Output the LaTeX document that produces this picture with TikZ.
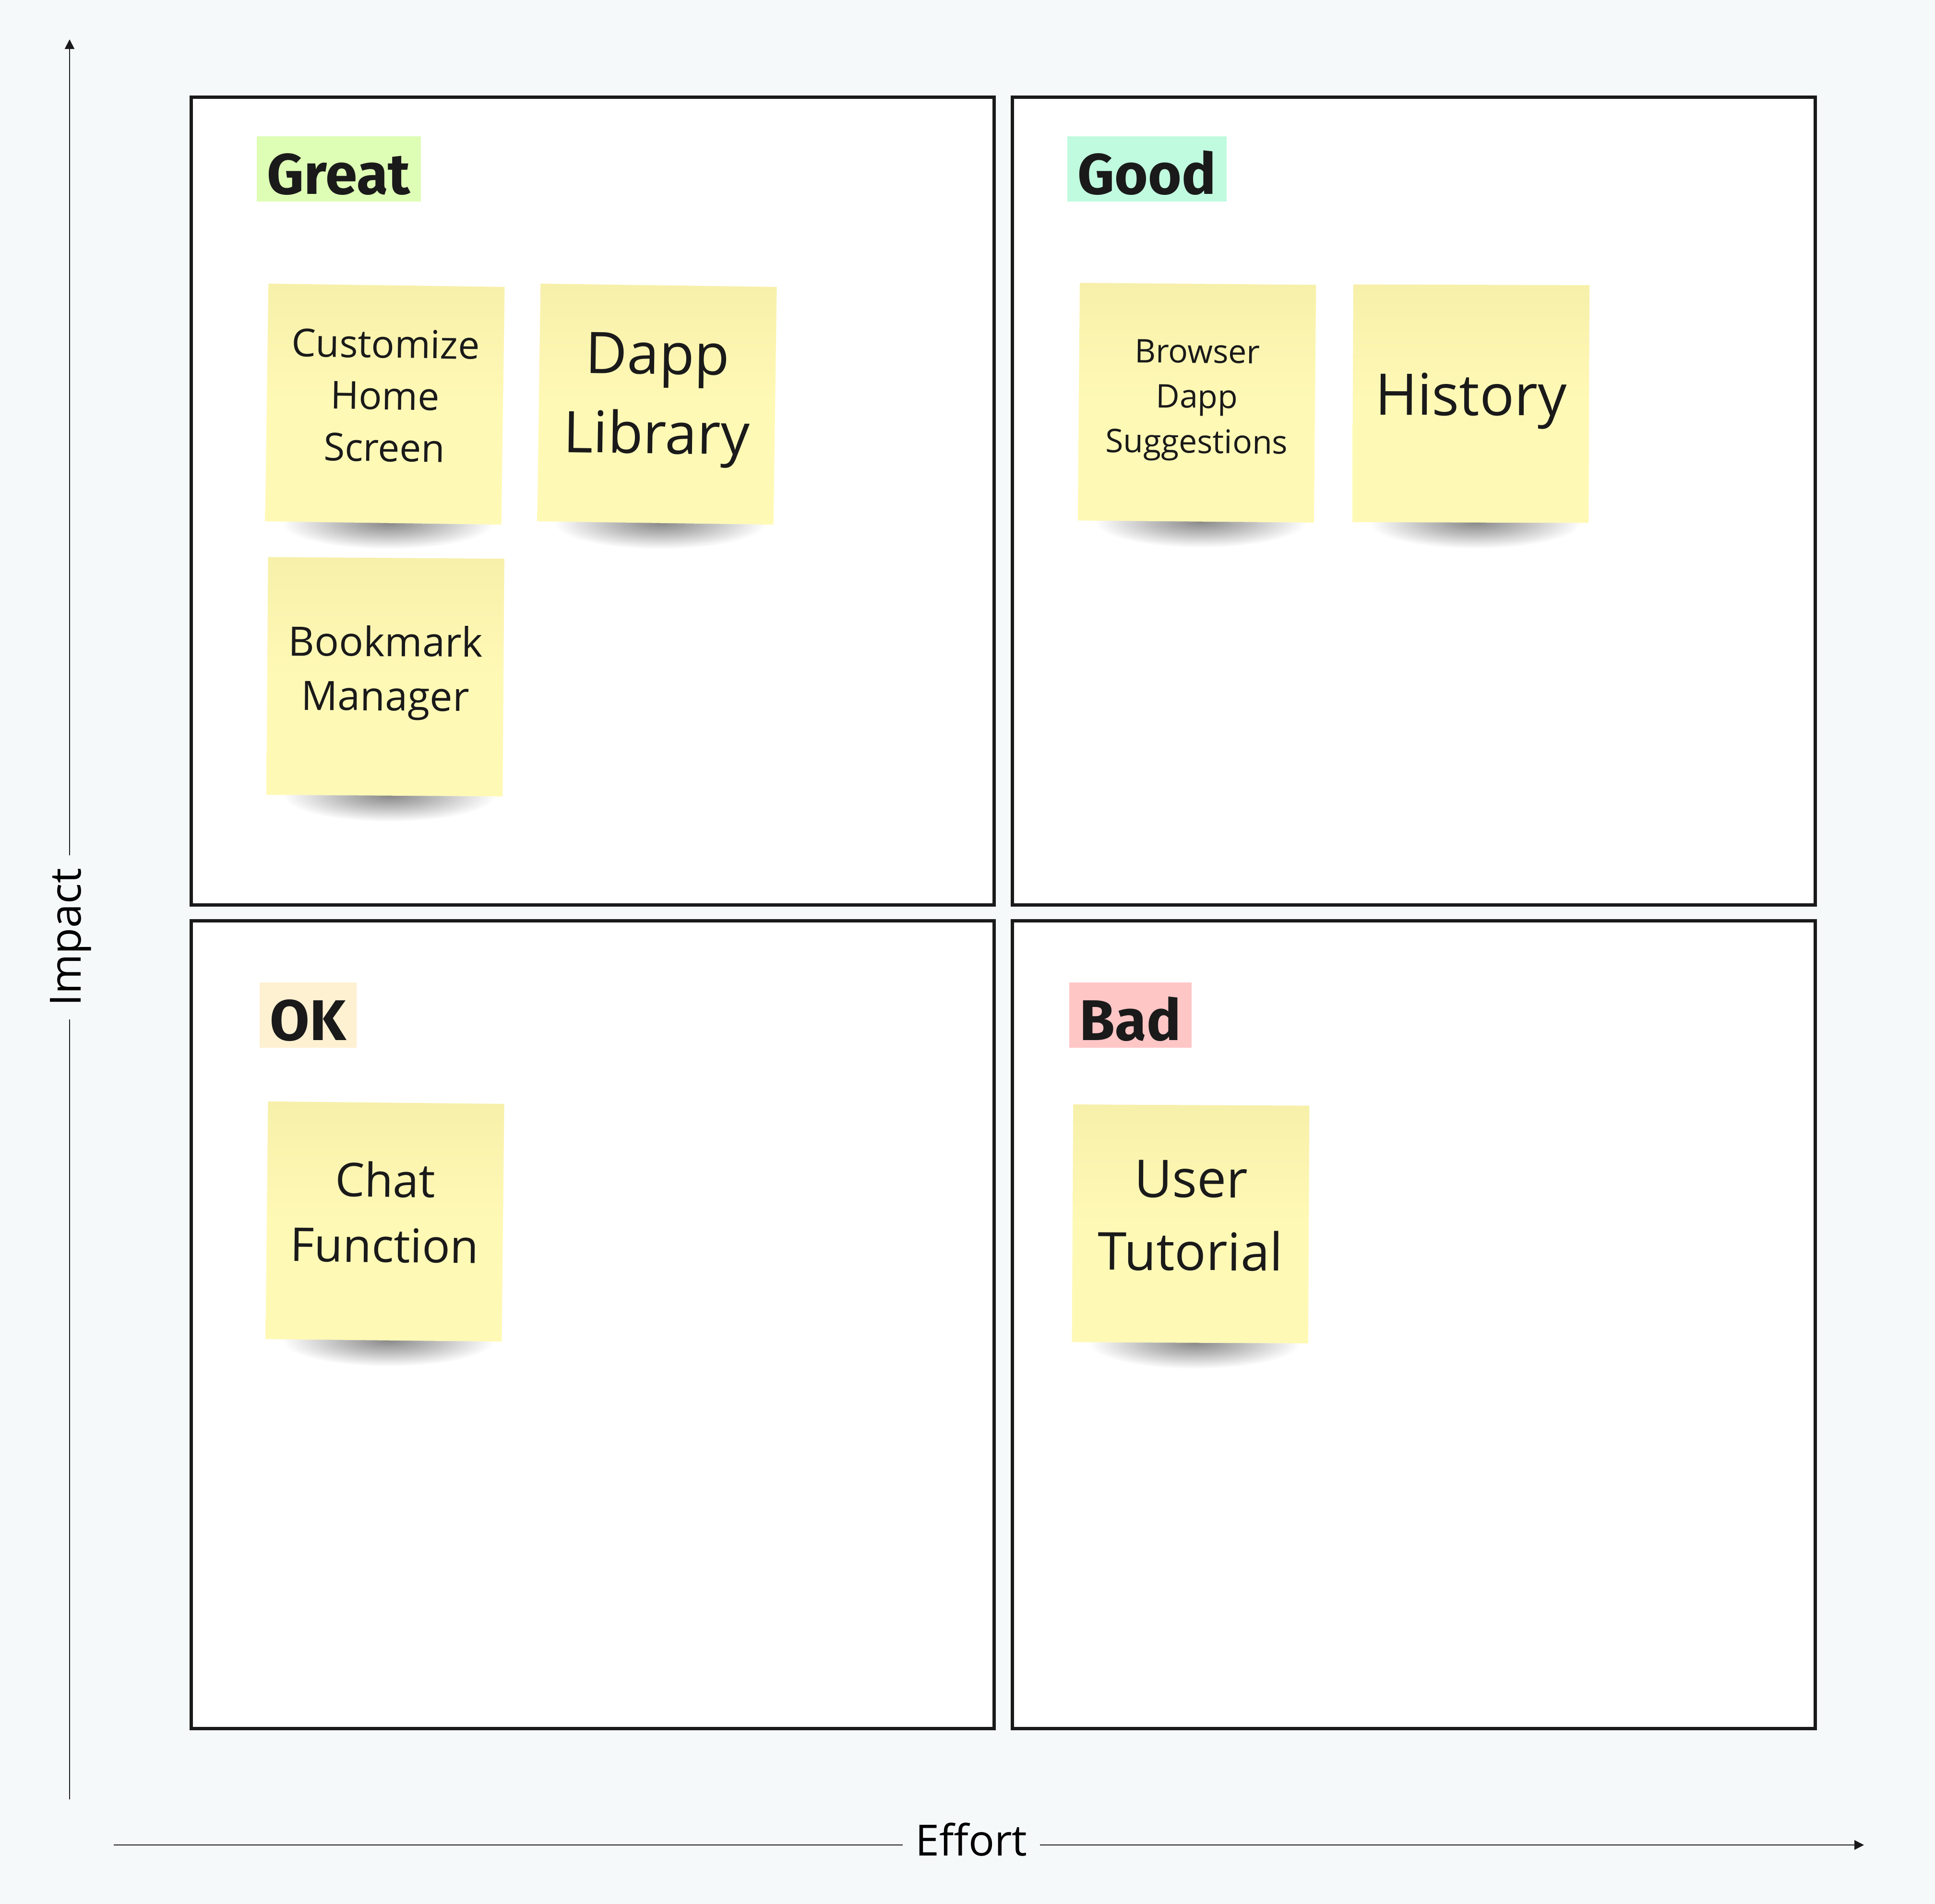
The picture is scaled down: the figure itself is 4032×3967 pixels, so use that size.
\documentclass[tikz,border=0pt]{standalone}
\usepackage{fontspec}
\setmainfont{Open Sans}
\newfontfamily\tagfont{Fira Sans}
\usetikzlibrary{arrows.meta}

\definecolor{canvas}{HTML}{F6F9FA}
\definecolor{ink}{HTML}{1A1A1A}
\definecolor{noteyellow}{HTML}{FFF9B6}
\definecolor{notetop}{HTML}{F7F0AA}
\definecolor{greatfill}{HTML}{DEFDB5}
\definecolor{goodfill}{HTML}{C0FADF}
\definecolor{okfill}{HTML}{FDF1D2}
\definecolor{badfill}{HTML}{FFC6C6}
\definecolor{shadowgray}{HTML}{8A8A8A}
\definecolor{shadowmid}{HTML}{BDBDBD}

\pgfdeclareradialshading{noteshadow}{\pgfpoint{0bp}{0bp}}{color(0bp)=(shadowgray); color(11bp)=(shadowmid); color(24bp)=(white); color(50bp)=(white)}
\pgfdeclarelayer{board}
\pgfdeclarelayer{shadow}
\pgfsetlayers{board,shadow,main}

\newcommand{\fs}[2]{\fontsize{#1}{#2}\selectfont}

\begin{document}
\begin{tikzpicture}[x=0.01cm, y=-0.01cm,
  quad/.style={draw=ink, line width=0.07cm, fill=white, minimum width=16.72cm, minimum height=16.82cm, inner sep=0pt},
  tag/.style={anchor=north west, inner xsep=0.22cm, inner ysep=0pt, text height=1.21cm, text depth=0.15cm, text=ink, font=\tagfont\bfseries\fs{34}{40}},
  note/.style={minimum width=4.92cm, minimum height=4.95cm, inner sep=0pt, align=center, text=ink, top color=notetop, bottom color=noteyellow, middle color=noteyellow},
  axis/.style={draw=ink, line width=0.6pt},
  axislabel/.style={inner xsep=0.26cm, text=black, font=\fs{25.5}{30}}]

  % board and quadrants
  \begin{pgfonlayer}{board}
    \fill[canvas] (0,0) rectangle (4032,3967);
    \node[quad] (great) at (1235,1044) {};
    \node[quad] (good) at (2946,1044) {};
    \node[quad] (ok) at (1235,2760) {};
    \node[quad] (bad) at (2946,2760) {};
  \end{pgfonlayer}

  % quadrant tags
  \node[tag, fill=greatfill] (greattag) at (534,283) {Great};
  \node[tag, fill=goodfill] (goodtag) at (2223,283) {Good};
  \node[tag, fill=okfill] (oktag) at (540,2046) {OK};
  \node[tag, fill=badfill] (badtag) at (2227,2046) {Bad};

  % sticky notes
  \node[note, rotate=-0.8, text depth=0.36cm, font=\fs{22.8}{30.7}] (custom) at (802,842) {Customize\\Home\\Screen};
  \node[note, rotate=-0.8, text depth=0.45cm, font=\fs{34}{47}] (dapplib) at (1369,842) {Dapp\\Library};
  \node[note, rotate=-0.5, text depth=0.26cm, font=\fs{19.3}{26.7}] (browser) at (2494,839) {Browser\\Dapp\\Suggestions};
  \node[note, rotate=-0.2, text depth=0.39cm, font=\fs{34}{40}] (history) at (3065,841) {History};
  \node[note, rotate=-0.4, text depth=0.36cm, font=\fs{24}{32.2}] (bookmark) at (803,1410) {Bookmark\\Manager};
  \node[note, rotate=-0.6, text depth=0.40cm, font=\fs{27.6}{38.7}] (chat) at (802,2545) {Chat\\Function};
  \node[note, rotate=-0.3, text depth=0.36cm, font=\fs{30.9}{43.2}] (tutorial) at (2481,2550) {User\\Tutorial};

  \begin{pgfonlayer}{shadow}
    \foreach \n in {custom,dapplib,browser,history,bookmark,chat,tutorial}
      \shade[shading=noteshadow] ([xshift=0.1cm]\n.south) ellipse [x radius=2.3cm, y radius=0.56cm];
  \end{pgfonlayer}

  % axes
  \coordinate (ybase) at (145,3749);
  \coordinate (ytip) at (145,82);
  \node[axislabel, rotate=90] (impact) at (147,1953) {Impact};
  \draw[axis] (ybase) -- (ybase |- impact.west);
  \draw[axis, -{Triangle[length=0.2cm, width=0.2cm]}] (ytip |- impact.east) -- (ytip);

  \coordinate (xbase) at (237,3844);
  \coordinate (xtip) at (3884,3844);
  \node[axislabel] (effort) at (2024,3833) {Effort};
  \draw[axis] (xbase) -- (effort.west |- xbase);
  \draw[axis, -{Triangle[length=0.2cm, width=0.2cm]}] (effort.east |- xtip) -- (xtip);
\end{tikzpicture}
\end{document}
